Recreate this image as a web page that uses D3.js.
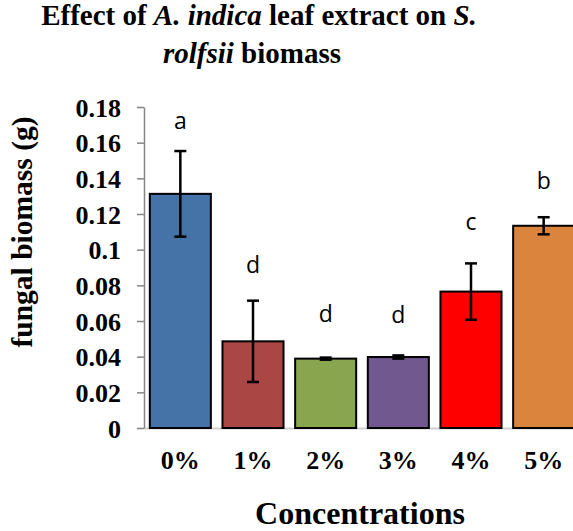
<!DOCTYPE html>
<html>
<head>
<meta charset="utf-8">
<script src="https://cdnjs.cloudflare.com/ajax/libs/d3/7.8.5/d3.min.js"></script>
<style>
  body { margin: 0; background: #fff; }
  svg { display: block; overflow: hidden; }
</style>
</head>
<body>
<div id="chart"></div>
<script>
var svgWidth = 573;
var svgHeight = 531;

// data
var concentrations = ["0%", "1%", "2%", "3%", "4%", "5%"];
var biomass = [0.1313, 0.0486, 0.0389, 0.0398, 0.0765, 0.1134];
var stdErr = [0.0240, 0.0228, 0.0006, 0.0009, 0.0158, 0.0048];
var groupLetters = ["a", "d", "d", "d", "c", "b"];
var letterLevel = [0.1677, 0.0867, 0.0597, 0.0589, 0.1111, 0.1342];
var yTicks = [0, 0.02, 0.04, 0.06, 0.08, 0.1, 0.12, 0.14, 0.16, 0.18];
var barColors = ["#4572A7", "#AA4643", "#89A54E", "#71588F", "#FF0000", "#DB843D"];

// plot area
var margin = { top: 107, left: 144, bottom: 103 };
var plotWidth = 436;
var height = svgHeight - margin.top - margin.bottom;

var svg = d3.select("#chart")
  .append("svg")
  .attr("width", svgWidth)
  .attr("height", svgHeight);

var chartGroup = svg.append("g")
  .attr("transform", `translate(${margin.left}, ${margin.top})`);

var xScale = d3.scaleBand()
  .domain(concentrations)
  .range([0, plotWidth])
  .paddingInner(0.16)
  .paddingOuter(0.08);

var yScale = d3.scaleLinear()
  .domain([0, 0.18])
  .range([height, 0]);

// x axis base line (light grey)
chartGroup.append("line")
  .attr("x1", 0)
  .attr("x2", plotWidth)
  .attr("y1", height + 0.5)
  .attr("y2", height + 0.5)
  .attr("stroke", "#D0D0D0")
  .attr("stroke-width", 2);

// bars
chartGroup.selectAll("rect.bar")
  .data(biomass)
  .enter()
  .append("rect")
  .attr("class", "bar")
  .attr("x", (d, i) => xScale(concentrations[i]))
  .attr("y", d => yScale(d))
  .attr("width", xScale.bandwidth())
  .attr("height", d => height - yScale(d))
  .attr("fill", (d, i) => barColors[i])
  .attr("stroke", "#000")
  .attr("stroke-width", 2);

// error bars
var errGroup = chartGroup.append("g");
biomass.forEach(function(v, i) {
  var cx = xScale(concentrations[i]) + xScale.bandwidth() / 2;
  var top = yScale(v + stdErr[i]);
  var bot = yScale(v - stdErr[i]);
  errGroup.append("line")
    .attr("x1", cx).attr("x2", cx)
    .attr("y1", top).attr("y2", bot)
    .attr("stroke", "#000").attr("stroke-width", 2.5);
  [top, bot].forEach(function(y) {
    errGroup.append("line")
      .attr("x1", cx - 6).attr("x2", cx + 6)
      .attr("y1", y).attr("y2", y)
      .attr("stroke", "#000").attr("stroke-width", 2.5);
  });
});

// significance letters
chartGroup.selectAll("text.letter")
  .data(groupLetters)
  .enter()
  .append("text")
  .attr("class", "letter")
  .attr("x", (d, i) => xScale(concentrations[i]) + xScale.bandwidth() / 2)
  .attr("y", (d, i) => yScale(letterLevel[i]))
  .attr("text-anchor", "middle")
  .attr("font-family", "'Open Sans', 'Liberation Sans', sans-serif")
  .attr("font-size", 23)
  .attr("fill", "#000")
  .text(d => d);

// y axis
var leftAxis = d3.axisLeft(yScale)
  .tickValues(yTicks)
  .tickFormat(d => d3.format("")(+d.toFixed(2)))
  .tickSize(7)
  .tickPadding(16)
  .tickSizeOuter(0);

var yAxis = chartGroup.append("g").call(leftAxis);
yAxis.select(".domain").attr("stroke", "#868686").attr("stroke-width", 1.5);
yAxis.selectAll(".tick line").attr("stroke", "#868686").attr("stroke-width", 1.5);
yAxis.selectAll(".tick text")
  .attr("font-family", "'Liberation Serif', 'Times New Roman', serif")
  .attr("font-weight", "bold")
  .attr("font-size", 26)
  .attr("fill", "#000")
  .attr("dy", "0.35em");

// x tick labels
chartGroup.selectAll("text.xlab")
  .data(concentrations)
  .enter()
  .append("text")
  .attr("class", "xlab")
  .attr("x", d => xScale(d) + xScale.bandwidth() / 2)
  .attr("y", height + 41)
  .attr("text-anchor", "middle")
  .attr("font-family", "'Liberation Serif', 'Times New Roman', serif")
  .attr("font-weight", "bold")
  .attr("font-size", 26)
  .text(d => d);

// axis titles
svg.append("text")
  .attr("x", 360)
  .attr("y", 524)
  .attr("text-anchor", "middle")
  .attr("font-family", "'Liberation Serif', 'Times New Roman', serif")
  .attr("font-weight", "bold")
  .attr("font-size", 32)
  .text("Concentrations");

svg.append("text")
  .attr("transform", "translate(32, 232) rotate(-90)")
  .attr("text-anchor", "middle")
  .attr("font-family", "'Liberation Serif', 'Times New Roman', serif")
  .attr("font-weight", "bold")
  .attr("font-size", 29.5)
  .text("fungal biomass (g)");

// title
var title = svg.append("text")
  .attr("text-anchor", "middle")
  .attr("font-family", "'Liberation Serif', 'Times New Roman', serif")
  .attr("font-weight", "bold")
  .attr("font-size", 29);

var line1 = title.append("tspan").attr("x", 259).attr("y", 25);
line1.append("tspan").text("Effect of ");
line1.append("tspan").attr("font-style", "italic").text("A. indica");
line1.append("tspan").text(" leaf extract on ");
line1.append("tspan").attr("font-style", "italic").text("S.");

var line2 = svg.append("text")
  .attr("x", 252)
  .attr("y", 63)
  .attr("text-anchor", "middle")
  .attr("font-family", "'Liberation Serif', 'Times New Roman', serif")
  .attr("font-weight", "bold")
  .attr("font-size", 29);
line2.append("tspan").attr("font-style", "italic").text("rolfsii");
line2.append("tspan").text(" biomass");
</script>
</body>
</html>
